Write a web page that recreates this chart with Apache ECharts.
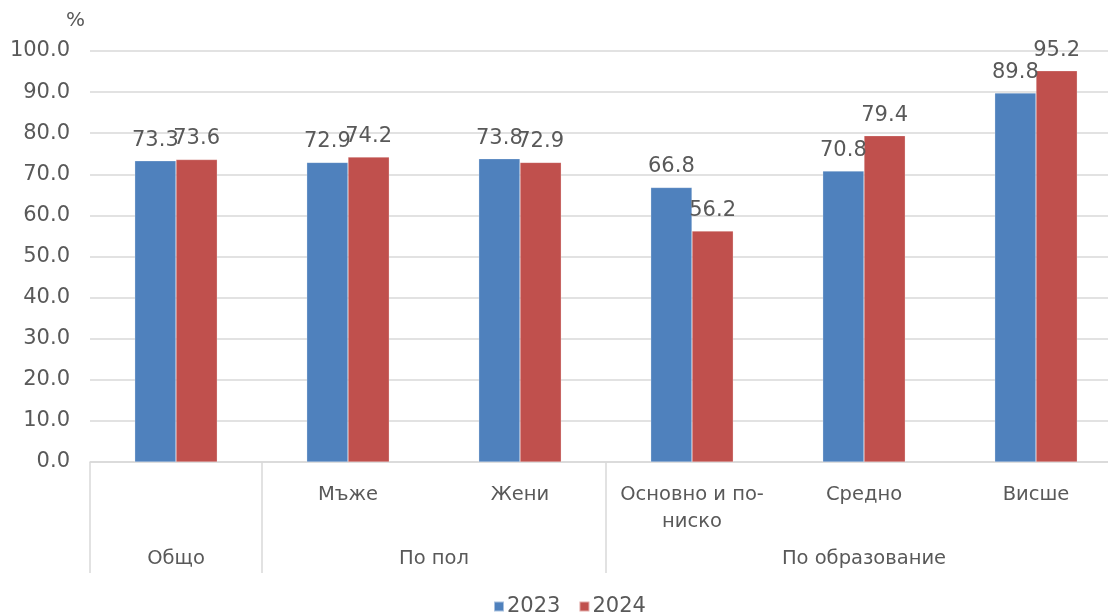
<!DOCTYPE html>
<html>
<head>
<meta charset="utf-8">
<script src="https://cdn.jsdelivr.net/npm/echarts@6/dist/echarts.min.js"></script>
<style>
html,body{margin:0;padding:0;background:#fff;}
#c{width:1108px;height:615px;}
</style>
</head>
<body>
<div id="c"></div>
<script>
// ---- data ----
const categories = ['', 'Мъже', 'Жени', 'Основно и по-\nниско', 'Средно', 'Висше'];
const groupNames = ['Общо', 'По пол', 'По образование'];
const groupSpans = [1, 2, 3];
const seriesNames = ['2023', '2024'];
const values2023 = [73.3, 72.9, 73.8, 66.8, 70.8, 89.8];
const values2024 = [73.6, 74.2, 72.9, 56.2, 79.4, 95.2];
const yTicks = { min: 0, max: 100, interval: 10 };

// ---- derived group boundaries / centres (in category units) ----
const boundaries = [0];
const centres = [];
groupSpans.forEach(s => {
  const start = boundaries[boundaries.length - 1];
  centres.push(start + s / 2);
  boundaries.push(start + s);
});

const textColor = '#595959';
const gridColor = '#d9d9d9';
const numFont = 'DejaVu Sans, Verdana, sans-serif';
const catFont = 'DejaVu Sans, sans-serif';

const chart = echarts.init(document.getElementById('c'));
chart.setOption({
  animation: false,
  backgroundColor: '#fff',
  color: ['#4F81BD', '#C0504D'],
  grid: { left: 90, width: 1032, top: 51, height: 411, containLabel: false, outerBoundsMode: 'none' },
  legend: {
    data: seriesNames,
    top: 591,
    left: 488,
    itemWidth: 10,
    itemHeight: 10,
    itemGap: 18,
    icon: 'rect',
    textStyle: { color: textColor, fontFamily: numFont, fontSize: 21, padding: [0, 0, 0, -2] }
  },
  xAxis: [
    {
      type: 'category',
      data: categories,
      axisLine: { show: true, lineStyle: { color: gridColor, width: 1.5 } },
      axisTick: {
        show: true,
        length: 111,
        interval: (i) => boundaries.indexOf(i) >= 0,
        lineStyle: { color: gridColor, width: 1.5 }
      },
      axisLabel: {
        interval: 0,
        margin: 19,
        color: textColor,
        fontFamily: catFont,
        fontSize: 19.5,
        lineHeight: 27,
        align: 'center'
      }
    },
    {
      type: 'value',
      min: 0,
      max: categories.length,
      position: 'bottom',
      axisLine: { show: false },
      splitLine: { show: false },
      axisTick: { show: false },
      axisLabel: {
        customValues: centres,
        margin: 87,
        color: textColor,
        fontFamily: catFont,
        fontSize: 19.5,
        formatter: (v) => {
          const k = centres.indexOf(v);
          return k >= 0 ? groupNames[k] : '';
        }
      }
    }
  ],
  yAxis: {
    type: 'value',
    min: yTicks.min,
    max: yTicks.max,
    interval: yTicks.interval,
    name: '%',
    nameLocation: 'end',
    nameGap: 20,
    nameTextStyle: { color: textColor, fontFamily: numFont, fontSize: 20, align: 'right', padding: [0, 5, 0, 0] },
    axisLine: { show: false },
    axisTick: { show: false },
    splitLine: { lineStyle: { color: gridColor, width: 1.5 } },
    axisLabel: {
      margin: 20,
      color: textColor,
      fontFamily: numFont,
      fontSize: 21,
      formatter: (v) => v.toFixed(1)
    }
  },
  series: [
    {
      name: seriesNames[0],
      type: 'bar',
      data: values2023,
      barGap: '0%',
      barCategoryGap: '52%',
      itemStyle: { borderColor: 'rgba(255,255,255,0.5)', borderWidth: 0.5 },
      label: {
        show: true, position: 'top', distance: 10,
        color: textColor, fontFamily: numFont, fontSize: 21,
        formatter: (p) => p.value.toFixed(1)
      }
    },
    {
      name: seriesNames[1],
      type: 'bar',
      data: values2024,
      barGap: '0%',
      barCategoryGap: '52%',
      itemStyle: { borderColor: 'rgba(255,255,255,0.5)', borderWidth: 0.5 },
      label: {
        show: true, position: 'top', distance: 10,
        color: textColor, fontFamily: numFont, fontSize: 21,
        formatter: (p) => p.value.toFixed(1)
      }
    }
  ]
});
</script>
</body>
</html>
